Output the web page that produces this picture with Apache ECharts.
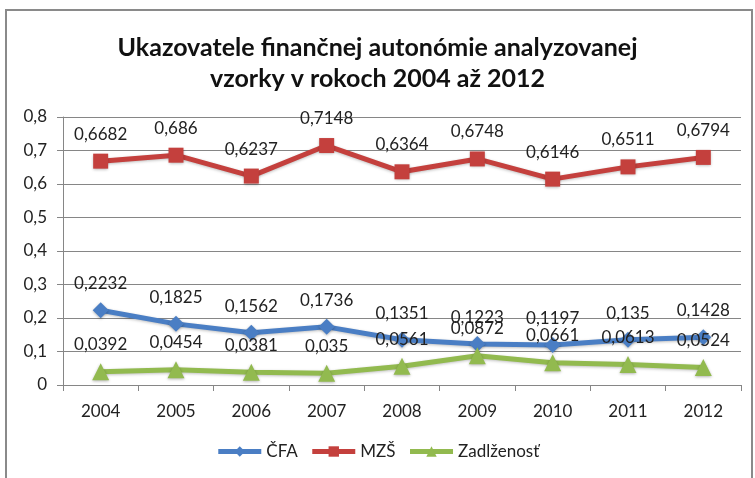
<!DOCTYPE html>
<html><head><meta charset="utf-8">
<script src="https://cdn.jsdelivr.net/npm/echarts@6/dist/echarts.min.js"></script>
<style>html,body{margin:0;padding:0;background:#fff}#c{width:755px;height:478px}</style>
</head><body><div id="c"></div>
<script>
const years = ['2004','2005','2006','2007','2008','2009','2010','2011','2012'];
const cfa = [0.2232,0.1825,0.1562,0.1736,0.1351,0.1223,0.1197,0.135,0.1428];
const mzs = [0.6682,0.686,0.6237,0.7148,0.6364,0.6748,0.6146,0.6511,0.6794];
const zadl = [0.0392,0.0454,0.0381,0.035,0.0561,0.0872,0.0661,0.0613,0.0524];
const names = ['ČFA','MZŠ','Zadlženosť'];

const FONT = 'Lato';
const fmt = v => String(v).replace('.', ',');
function mk(name, data, color, symbol, size, dist){
  return {
    name, type:'line', data, symbol, symbolSize:size,
    lineStyle:{color, width:5, shadowColor:'rgba(0,0,0,0.25)', shadowBlur:3, shadowOffsetY:1},
    itemStyle:{color, shadowColor:'rgba(0,0,0,0.3)', shadowBlur:3, shadowOffsetY:1},
    label:{show:true, position:'top', distance:dist, color:'#222', fontSize:17, fontFamily:FONT,
      formatter:p=>fmt(p.value)},
    emphasis:{disabled:true}, animation:false, z: name==='MZŠ'?3:2
  };
}
const chart = echarts.init(document.getElementById('c'), null, {renderer:'canvas'});
chart.setOption({
  animation:false,
  textStyle:{fontFamily:FONT},
  graphic:[{type:'rect', shape:{x:6,y:10,width:746,height:490}, style:{fill:'none', stroke:'#8a8a8a', lineWidth:2}, silent:true}],
  title:{text:'Ukazovatele finančnej autonómie analyzovanej\nvzorky v rokoch 2004 až 2012', left:'center', top:27,
    textStyle:{fontFamily:FONT, fontWeight:'bold', fontSize:25, color:'#111', lineHeight:31}},
  grid:{left:63, right:14, top:117, bottom:93},
  legend:{data:names, bottom:13, left:'center', itemWidth:43, itemHeight:13, itemGap:12,
    lineStyle:{width:5},
    textStyle:{fontFamily:FONT, fontSize:17, color:'#222'}},
  xAxis:{type:'category', data:years, boundaryGap:true,
    axisLine:{lineStyle:{color:'#868686'}}, axisTick:{show:true, length:6, lineStyle:{color:'#868686'}},
    axisLabel:{fontFamily:FONT, fontSize:17, color:'#222', margin:18}},
  yAxis:{type:'value', min:0, max:0.8, interval:0.1,
    axisLine:{show:true, lineStyle:{color:'#868686'}}, axisTick:{show:true, length:6, lineStyle:{color:'#868686'}},
    splitLine:{lineStyle:{color:'#868686'}},
    axisLabel:{fontFamily:FONT, fontSize:17, color:'#222', margin:16,
      formatter:v=>{const r=Math.round(v*10)/10; return r===0?'0':fmt(r.toFixed(1));}}},
  series:[
    mk('ČFA', cfa, '#4a7ec4', 'diamond', 16, 10),
    mk('MZŠ', mzs, '#c4403d', 'rect', 15, 11),
    mk('Zadlženosť', zadl, '#92ba4f', 'triangle', 17, 10)
  ]
});
</script></body></html>
